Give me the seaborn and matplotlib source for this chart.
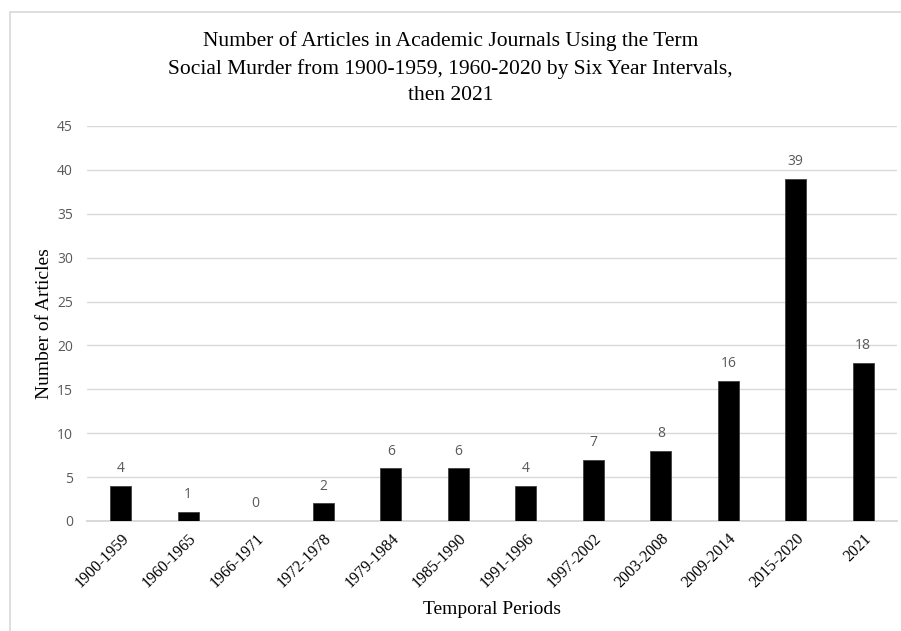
import matplotlib
matplotlib.use("Agg")
import matplotlib.pyplot as plt
import seaborn as sns
import pandas as pd
from matplotlib.patches import Rectangle

periods = ["1900-1959", "1960-1965", "1966-1971", "1972-1978", "1979-1984",
           "1985-1990", "1991-1996", "1997-2002", "2003-2008", "2009-2014",
           "2015-2020", "2021"]
articles = [4, 1, 0, 2, 6, 6, 4, 7, 8, 16, 39, 18]
y_ticks = [0, 5, 10, 15, 20, 25, 30, 35, 40, 45]

title = ("Number of Articles in Academic Journals Using the Term\n"
         "Social Murder from 1900-1959, 1960-2020 by Six Year Intervals,\n"
         "then 2021")

df = pd.DataFrame({"period": periods, "articles": articles})

sns.set_theme(style="white")
serif = ["Liberation Serif", "DejaVu Serif"]
sans = ["Open Sans", "DejaVu Sans"]
grey_text = "#595959"
grid_col = "#d9d9d9"

fig = plt.figure(figsize=(9.01, 6.31), dpi=100)
ax = fig.add_axes([87 / 901, 1 - 521 / 631, (897 - 87) / 901, (521 - 126) / 631])

# chart frame
fig.patches.append(Rectangle((10 / 901, -0.1), 1.2, 1 - 12 / 631 + 0.1,
                             transform=fig.transFigure, fill=False,
                             edgecolor="#d9d9d9", linewidth=1.2, zorder=0))

sns.barplot(data=df, x="period", y="articles", color="black", width=0.31,
            edgecolor="#404040", linewidth=0.6, saturation=1, ax=ax, zorder=3)

ax.set_ylim(0, 45)
ax.set_yticks(y_ticks)
ax.set_xlim(-0.5, len(periods) - 0.5)
ax.yaxis.grid(True, color=grid_col, linewidth=1.0, zorder=0)
ax.set_axisbelow(True)
for side in ["top", "right", "left"]:
    ax.spines[side].set_visible(False)
ax.spines["bottom"].set_color(grid_col)
ax.spines["bottom"].set_linewidth(1.4)
ax.tick_params(axis="both", length=0)
ax.tick_params(axis="y", pad=10)
ax.tick_params(axis="x", pad=7)

for lab in ax.get_yticklabels():
    lab.set_fontfamily(sans)
    lab.set_fontsize(10)
    lab.set_color(grey_text)

ax.set_xticks(range(len(periods)))
ax.set_xticklabels(periods, rotation=45, ha="right", rotation_mode="anchor",
                   fontfamily=serif, fontsize=11.5, color="black")

for i, v in enumerate(articles):
    ax.annotate(str(v), (i, v), xytext=(0, 7), textcoords="offset points",
                ha="center", va="bottom", fontfamily=sans, fontsize=10,
                color=grey_text)

ax.set_xlabel("Temporal Periods", fontfamily=serif, fontsize=14, color="black",
              labelpad=7)
ax.set_ylabel("Number of Articles", fontfamily=serif, fontsize=14, color="black")
ax.yaxis.set_label_coords(-0.052, 0.5)
ax.yaxis.label.set_verticalalignment("center")

fig.text(0.5, 1 - 68 / 631, title, ha="center", va="center", fontfamily=serif,
         fontsize=15.5, color="black", linespacing=1.55)

fig.savefig("out.png", dpi=100)
